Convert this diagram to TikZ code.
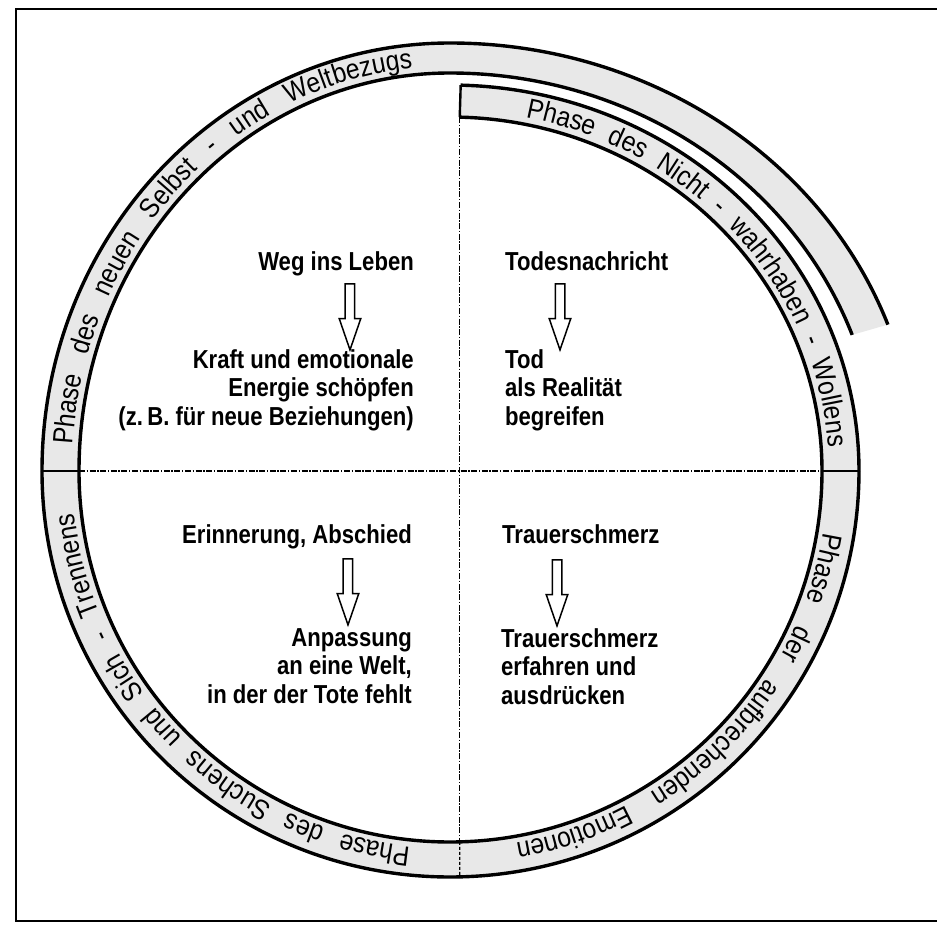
\documentclass[tikz,border=0pt]{standalone}
\usepackage{fontspec}
\setmainfont{Liberation Sans}
\newfontfamily\ringfont[FakeStretch=0.88]{Liberation Sans}
\newfontfamily\quadfont[FakeStretch=0.85]{Liberation Sans}
\newcommand\ringsz{\ringfont\fontsize{28}{30}\selectfont}
\usetikzlibrary{decorations.text,shapes.arrows}
% a ring edge drawn as a thin filled strip along two joined elliptic arcs
\newcommand\edgestrip[6]{%
  \pgfmathsetmacro\eOa{#4+1.7}\pgfmathsetmacro\eOb{#5+1.7}\pgfmathsetmacro\eOy{#6+1.7}%
  \pgfmathsetmacro\eIa{#4-1.7}\pgfmathsetmacro\eIb{#5-1.7}\pgfmathsetmacro\eIy{#6-1.7}%
  \fill[edgefill] (#1:\eOa\space and \eOy)
    arc[start angle=#1,end angle=#2,x radius=\eOa,y radius=\eOy]
    arc[start angle=#2,end angle=#3,x radius=\eOb,y radius=\eOy]
    -- (#3:\eIb\space and \eIy)
    arc[start angle=#3,end angle=#2,x radius=\eIb,y radius=\eIy]
    arc[start angle=#2,end angle=#1,x radius=\eIa,y radius=\eIy] -- cycle;}
\begin{document}
\begin{tikzpicture}[x=1pt,y=1pt,
  edgefill/.style={fill=black},
  bandend/.style={draw=black, line width=2.4pt},
  bandfill/.style={fill=black!9},
  dashdiv/.style={draw=black, line width=1.2pt, dash pattern=on 6pt off 1.6pt on 1.4pt off 1.6pt},
  banddiv/.style={draw=black, line width=1.2pt, dash pattern=on 3pt off 2pt},
  qtext/.style={font=\quadfont\fontsize{26}{28.5}\selectfont\bfseries, inner sep=0pt},
  qleft/.style={qtext, align=right, anchor=north east},
  qright/.style={qtext, align=left, anchor=north west},
  harrow/.style={draw=black, single arrow, rotate=-90, line width=1.5pt, minimum height=66pt,
    inner sep=4pt, single arrow head extend=6pt, single arrow tip angle=38},
  ringtext/.style={decorate, decoration={text along path,
    text align={fit to path stretching spaces}, text={#1}}}
]
\useasboundingbox (-450,-453) rectangle (487,471);
\fill[white] (-450,-453) rectangle (487,471);

% frame
\draw[line width=1.5pt] (487,462) -- (-434,462) -- (-434,-450) -- (487,-450);

% band fills
\fill[bandfill] (-408,0) arc[start angle=180,end angle=90,x radius=408,y radius=428]
  arc[start angle=90,end angle=20,x radius=466,y radius=428]
  -- (20:428 and 398) arc[start angle=20,end angle=90,x radius=428,y radius=398]
  arc[start angle=90,end angle=180,x radius=371,y radius=398] -- cycle;
\fill[bandfill] (88.5:409 and 386) arc[start angle=88.5,end angle=0,x radius=409,y radius=386]
  -- (372,0) arc[start angle=0,end angle=88.5,x radius=372,y radius=354] -- cycle;
\fill[bandfill] (409,0) arc[start angle=0,end angle=-90,x radius=409,y radius=406]
  arc[start angle=-90,end angle=-180,x radius=408,y radius=406]
  -- (-371,0) arc[start angle=-180,end angle=-90,x radius=371,y radius=371]
  arc[start angle=-90,end angle=0,x radius=372,y radius=371] -- cycle;

% coordinates for dividers
\coordinate (bOs) at (88.5:409 and 386);
\coordinate (bIs) at (88.5:372 and 354);
\coordinate (hl) at (-371,0);
\coordinate (hlo) at (-408,0);
\coordinate (hr) at (372,0);
\coordinate (hro) at (409,0);
\coordinate (vb) at (-88.5:372 and 371);
\coordinate (vbo) at (9.74,-406);

% dividers
\path[dashdiv] (hl) -- (hr);
\path[dashdiv] (bIs) -- (vb);
\path[banddiv] (vb) -- (vbo);
\path[bandend] (hlo) -- (hl);
\path[bandend] (hr) -- (hro);
\path[bandend] (bIs) -- (bOs);

% ring edges
\edgestrip{180}{90}{20}{408}{466}{428}
\edgestrip{180}{90}{20}{371}{428}{398}
\edgestrip{88.5}{45}{0}{409}{409}{386}
\edgestrip{88.5}{45}{0}{372}{372}{354}
\edgestrip{0}{-90}{-180}{409}{408}{406}
\edgestrip{0}{-90}{-180}{372}{371}{371}

% ring texts
\path[ringtext={|\ringsz|Phase des neuen Selbst - und Weltbezugs}]
  (176.3:378 and 405) arc[start angle=176.3,end angle=95.7,x radius=378,y radius=405];
\path[ringtext={|\ringsz|Phase des Nicht - wahrhaben - Wollens}]
  (78.5:379 and 361) arc[start angle=78.5,end angle=3.8,x radius=379,y radius=361];
\path[ringtext={|\ringsz|Phase der aufbrechenden Emotionen}]
  (-9.4:379 and 378) arc[start angle=-9.4,end angle=-80,x radius=379,y radius=378];
\path[ringtext={|\ringsz|Phase des Suchens und Sich - Trennens}]
  (-96:378 and 378) arc[start angle=-96,end angle=-173.6,x radius=378,y radius=378];

% quadrant texts
\node[qleft] (weg) at (-36,220) {Weg ins Leben};
\node[qleft] (kraft) at (-36,122) {Kraft und emotionale\\Energie schöpfen\\(z.\,B. für neue Beziehungen)};
\node[qright] (todes) at (55,220) {Todesnachricht};
\node[qright] (tod) at (55,122) {Tod\\als Realität\\begreifen};
\node[qleft] (erin) at (-38,-53) {Erinnerung, Abschied};
\node[qright] (trauer) at (52,-53) {Trauerschmerz};
\node[qleft] (anp) at (-38,-157) {Anpassung\\an eine Welt,\\in der der Tote fehlt};
\node[qright] (trauer2) at (51,-157) {Trauerschmerz\\erfahren und\\ausdrücken};

% hollow arrows
\node[harrow] (a1) at (-100,161) {};
\node[harrow] (a2) at (110,161) {};
\node[harrow] (a3) at (-102,-114) {};
\node[harrow] (a4) at (107,-115) {};
\end{tikzpicture}
\end{document}
